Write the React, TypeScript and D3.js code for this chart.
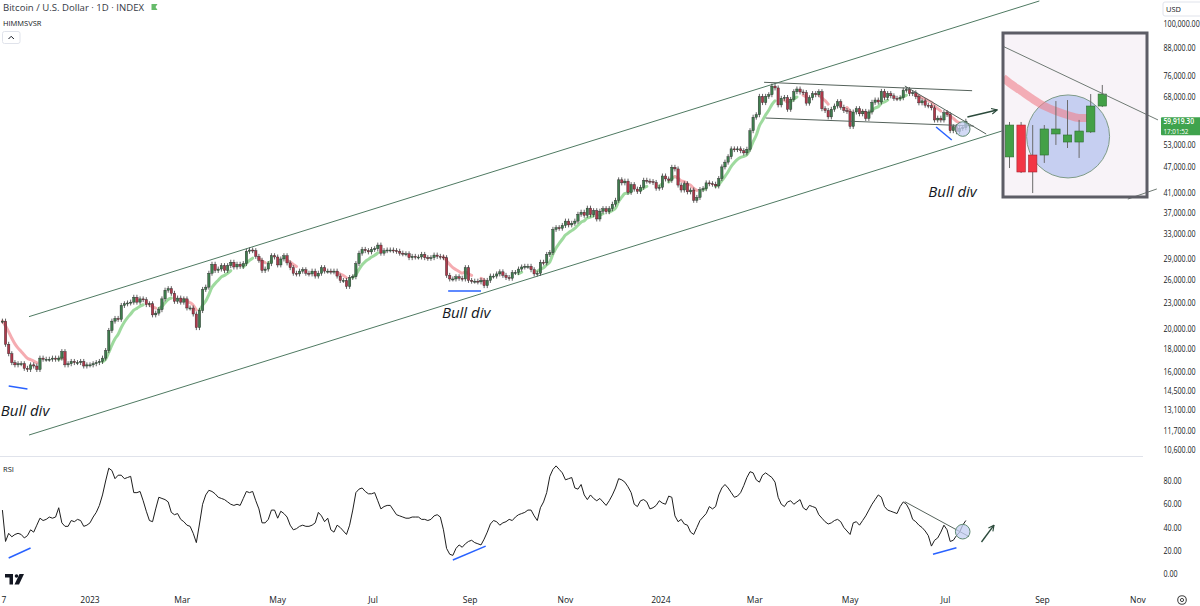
import React, { useEffect, useRef } from 'react';
import * as d3 from 'd3';

const FONT = '"Open Sans", "Liberation Sans", Arial, sans-serif';

// one candle every 2 days, first one on this date
const seriesStart = '2022-11-06';
const stepDays = 2;

// closes, thousands of USD
const closes2022 = [20.9, 18.5, 17.6, 16.8, 16.6, 16.7, 16.7, 16.3, 16.2, 16.6, 16.5, 16.2, 17.2, 17.1, 17.1, 17.1, 17.2, 17.1, 17.2, 17.8, 16.6, 16.7, 16.9, 16.8, 16.8, 16.9, 16.5, 16.6];
const closes2023 = [
  16.6, 16.7, 16.8, 16.9, 17.2, 17.9, 19.9, 20.9, 21.2, 21.1, 22.7, 22.9, 23.0, 23.1, 23.7, 23.1,
  23.5, 23.4, 22.8, 22.9, 21.6, 21.8, 22.2, 23.5, 24.6, 24.8, 24.2, 23.2, 23.6, 23.1,
  23.5, 22.4, 22.4, 21.7, 20.2, 22.1, 24.7, 25.0, 26.9, 28.2, 27.3, 27.5, 28.0, 27.3, 28.0,
  28.5, 27.8, 28.2, 27.9, 28.3, 30.2, 30.4, 30.3, 29.4, 28.8, 27.3, 27.5, 28.3, 29.5, 29.3,
  28.1, 29.0, 29.5, 28.4, 27.7, 26.9, 26.8, 27.2, 27.4, 26.9, 26.8, 27.2, 26.5, 26.9, 27.7, 27.2,
  27.2, 27.1, 27.2, 26.5, 25.9, 25.9, 25.1, 26.3, 26.4, 28.3, 29.9, 30.5, 30.3, 30.1, 30.5,
  30.6, 31.2, 29.9, 30.3, 30.4, 30.4, 30.3, 30.2, 29.9, 29.8, 29.8, 29.2, 29.4, 29.3, 29.3,
  29.7, 29.2, 29.1, 29.2, 29.6, 29.4, 29.3, 29.2, 26.6, 26.1, 26.1, 26.4, 26.2, 26.1, 27.7, 25.9,
  25.8, 25.8, 25.7, 25.9, 25.2, 25.9, 26.5, 26.5, 26.8, 27.1, 26.6, 26.3, 26.2, 27.0, 27.0,
  27.5, 27.8, 27.9, 27.9, 27.4, 26.8, 26.9, 28.5, 28.4, 29.7, 30.0, 33.9, 34.2, 34.1, 34.6,
  35.4, 34.7, 35.0, 35.4, 36.7, 37.1, 36.5, 37.9, 36.6, 37.4, 35.8, 37.3, 37.8, 37.2, 37.8,
  38.7, 39.5, 44.0, 43.3, 43.7, 41.2, 42.9, 41.9, 41.4, 42.3, 43.9, 43.7, 43.6, 43.4, 42.1, 42.3,
];
const closes2024 = [
  44.9, 44.2, 43.9, 47.0, 46.6, 42.8, 41.7, 43.1, 41.3, 41.7, 39.5, 40.1, 41.8, 42.0, 43.3,
  43.1, 43.0, 42.6, 44.3, 47.1, 48.3, 49.7, 51.8, 51.6, 51.8, 51.3, 50.7, 51.7, 57.0, 61.2,
  62.0, 68.3, 66.1, 68.3, 68.9, 72.1, 71.4, 65.3, 67.6, 67.9, 63.8, 67.2, 70.0, 71.0, 69.9,
  69.7, 65.9, 67.8, 69.3, 68.9, 70.0, 64.0, 63.4, 61.3, 63.8, 64.9, 66.4, 64.5, 63.4, 63.1,
  58.3, 62.9, 64.0, 62.3, 63.1, 60.8, 62.9, 66.2, 67.0, 66.3, 70.1, 67.9, 69.3, 68.5, 67.6, 67.5,
  67.8, 70.6, 70.8, 69.3, 69.6, 68.2, 66.0, 66.7, 65.2, 65.0, 64.3, 60.3, 60.9, 60.3, 62.7,
  62.1, 57.0, 58.2, 56.7, 57.7, 57.9, 59.9,
];

// RSI read on the same dates
const rsi2022 = [55, 28, 35, 32, 34, 35, 34, 31, 33, 38, 36, 42, 48, 46, 47, 49, 48, 49, 57, 44, 41, 41, 46, 45, 47, 46, 41, 42];
const rsi2023 = [
  44, 49, 53, 59, 68, 80, 91, 89, 82, 85, 85, 82, 83, 84, 70, 70, 71, 63, 54, 46, 45, 56, 66, 65, 64, 62, 53, 51, 52, 47,
  45,
  42, 41, 35, 27, 43, 60, 68, 72, 71, 69, 66, 65, 64, 62, 60, 59, 60, 59, 65, 71, 70, 71, 63, 56, 44, 44, 47, 55, 55, 48,
  54, 52, 49, 42, 38, 39, 41, 42, 41, 41, 42, 44, 53, 50, 45, 48, 38, 36, 42, 40, 37, 34, 42, 55, 70, 73, 74, 71, 69, 69,
  70, 63, 56, 58, 59, 59, 55, 51, 50, 49, 48, 48, 49, 49, 49, 47, 47, 46, 47, 50, 51, 49, 38, 22, 17, 16, 22, 25, 23, 26,
  28,
  29, 27, 26, 25, 30, 36, 43, 46, 45, 42, 44, 45, 47, 46, 49, 51, 52, 53, 55, 55, 50, 46, 57, 62, 70, 84, 90, 93, 90, 87,
  81, 82, 83, 74, 73, 77, 68, 64, 68, 65, 63, 65, 62, 59, 63, 68, 74, 82, 81, 79, 75, 70, 60, 58, 63, 64, 62, 56, 57, 59, 63,
];
const rsi2024 = [
  61, 60, 67, 66, 50, 45, 47, 43, 42, 36, 34, 40, 46, 49, 52, 58, 56, 58, 68, 74, 77, 74, 70, 66, 67, 70, 76, 83, 88,
  87, 81, 79, 85, 87, 85, 83, 79, 66, 60, 58, 62, 63, 60, 62, 64, 57, 55, 59, 58, 57, 51, 48, 45, 43, 44, 46, 47, 45, 40,
  37, 34, 44, 45, 42, 46, 50, 55, 60, 64, 68, 66, 58, 55, 54, 53, 52, 58, 62, 60, 55, 47, 45, 42, 40, 37, 33, 24, 29, 31,
  36, 42, 38, 28, 29, 33, 36, 42, 46,
];

const priceTicks = [100000, 88000, 76000, 68000, 53000, 47000, 41000, 37000, 33000, 29000, 26000, 23000, 20000, 18000, 16000, 14500, 13100, 11700, 10600];
const rsiTicks = [80, 60, 40, 20, 0];
const dateTicks = ['2022-11-07', '2023-01-01', '2023-03-01', '2023-05-01', '2023-07-01', '2023-09-01', '2023-11-01', '2024-01-01', '2024-03-01', '2024-05-01', '2024-07-01', '2024-09-01', '2024-11-01'];
const dateLabels = ['7', '2023', 'Mar', 'May', 'Jul', 'Sep', 'Nov', '2024', 'Mar', 'May', 'Jul', 'Sep', 'Nov'];
const lastPrice = 59919.3;
const countdown = '17:01:52';

// drawings: [date, value, date, value]
const channelLines = [
  ['2022-11-23', 21400, '2024-08-30', 112900],
  ['2022-11-23', 11470, '2024-08-06', 56900],
];
const wedgeLines = [
  ['2024-03-07', 73550, '2024-07-18', 70370],
  ['2024-03-08', 60940, '2024-07-19', 58430],
  ['2024-06-05', 72130, '2024-07-27', 56010],
];
const bullDivPrice = [
  ['2022-11-10', 14850, '2022-11-22', 14620],
  ['2023-08-18', 24490, '2023-09-08', 24490],
  ['2024-06-25', 58110, '2024-07-05', 54270],
];
const bullDivRsi = [
  ['2022-11-10', 13.8, '2022-11-24', 22.4],
  ['2023-08-21', 12, '2023-09-11', 24],
  ['2024-06-23', 17, '2024-07-08', 22.6],
];
const rsiTrend = ['2024-06-05', 62.2, '2024-07-16', 32.2];
const notes = [['2022-11-05', 12680], ['2023-08-14', 21250], ['2024-06-20', 40190]];
const arrowPrice = ['2024-07-15', 61270, '2024-08-03', 63570];
const arrowRsi = ['2024-07-24', 27.5, '2024-08-01', 42];
const circlePrice = ['2024-07-12', 57500];
const circleRsi = ['2024-07-12', 36.4];

// zoomed inset, last nine daily candles
const insetOpen = [56040, 58220, 56170, 56170, 57610, 57060, 57060, 57750, 59520];
const insetHigh = [58430, 58430, 58220, 58220, 59860, 59930, 58570, 60340, 60960];
const insetLow = [55280, 54940, 53570, 55630, 56860, 56650, 55970, 57680, 59450];
const insetClose = [58220, 55010, 55010, 57950, 57950, 57540, 57810, 59520, 60340];
const insetRibbonIdx = [-0.55, 0, 1, 2, 3, 4, 5, 6, 7];
const insetRibbon = [61440, 61100, 60550, 60000, 59520, 59180, 58910, 58700, 58700];
const insetCircle = [5.05, 57440];
const insetLines = [
  [-0.6, 63620, 12.8, 58570],
  [10.2, 53160, 12.7, 53850],
];

// axis text is narrow in the original: draw it horizontally squeezed
const axisText = (g: any, tx: number, ty: number, s: string) =>
  g.append('text').attr('transform', `translate(${tx},${ty}) scale(0.79,1)`).text(s);

export default function App() {
  const svgRef = useRef<SVGSVGElement | null>(null);

  useEffect(() => {
    if (!svgRef.current) return;
    const svg = d3.select(svgRef.current);
    svg.selectAll('*').remove();

    const parse = d3.utcParse('%Y-%m-%d');
    const day = (s: any) => parse(s) as Date;

    const x = d3.scaleUtc().domain([day('2023-01-01'), day('2024-01-01')]).range([90, 90 + 365 * 1.564]);
    const y = d3.scaleLog().domain([10600, 100000]).range([450, 24]);
    const yR = d3.scaleLinear().domain([0, 80]).range([574, 481]);

    const closes = [...closes2022, ...closes2023, ...closes2024].map(v => v * 1000);
    const rsi = [...rsi2022, ...rsi2023, ...rsi2024];
    const t0 = day(seriesStart);
    const dates = closes.map((_, i) => d3.utcDay.offset(t0, i * stepDays));

    svg.append('rect').attr('width', 1200).attr('height', 606).attr('fill', '#ffffff');

    const defs = svg.append('defs');
    defs.append('clipPath').attr('id', 'mainClip').append('rect')
      .attr('x', 0).attr('y', 0).attr('width', 1150).attr('height', 456);
    defs.append('clipPath').attr('id', 'rsiClip').append('rect')
      .attr('x', 0).attr('y', 457).attr('width', 1150).attr('height', 133);
    defs.append('clipPath').attr('id', 'insetClip').append('rect')
      .attr('x', 1003).attr('y', 33).attr('width', 144).attr('height', 164);
    const mk = defs.append('marker').attr('id', 'arrowHead')
      .attr('viewBox', '0 0 10 10').attr('refX', 9).attr('refY', 5)
      .attr('markerWidth', 7).attr('markerHeight', 7).attr('markerUnits', 'userSpaceOnUse')
      .attr('orient', 'auto');
    mk.append('path').attr('d', 'M1,1 L9,5 L1,9').attr('fill', 'none')
      .attr('stroke', '#2b4a3b').attr('stroke-width', 1.6);

    // pane separator
    svg.append('line').attr('x1', 0).attr('x2', 1143).attr('y1', 456.5).attr('y2', 456.5)
      .attr('stroke', '#e0e3eb').attr('stroke-width', 1);

    const main = svg.append('g').attr('clip-path', 'url(#mainClip)');

    const seg = (g: any, l: any[], ys: any, color: string, w: number) =>
      g.append('line')
        .attr('x1', x(day(l[0]))).attr('y1', ys(l[1]))
        .attr('x2', x(day(l[2]))).attr('y2', ys(l[3]))
        .attr('stroke', color).attr('stroke-width', w);

    // channel
    channelLines.forEach(l => seg(main, l, y, '#4f7a62', 1));

    // trend ribbon (ema of the closes)
    const alpha = 2 / 9;
    const ema: number[] = [];
    closes.forEach((c, i) => ema.push(i === 0 ? c : ema[i - 1] + alpha * (c - ema[i - 1])));
    const side = closes.map((c, i) => {
      const gap = (c - ema[i]) / ema[i];
      return gap > 0.025 ? 1 : gap < -0.025 ? -1 : 0;
    });
    ([[1, '#93d693'], [-1, '#f4a3a9']] as [number, string][]).forEach(([s, color]) => {
      const line = d3.line<number>()
        .defined((_, i) => side[i] === s || (side[i + 1] === s && i + 1 < side.length))
        .x((_, i) => x(dates[i]))
        .y(v => y(v))
        .curve(d3.curveMonotoneX);
      main.append('path').datum(ema).attr('d', line as any)
        .attr('fill', 'none').attr('stroke', color).attr('stroke-width', 3)
        .attr('stroke-linecap', 'round').attr('opacity', 0.9);
    });

    // candles
    const candles = closes.map((c, i) => ({ o: i === 0 ? c : closes[i - 1], c, t: dates[i] }));
    const cg = main.append('g');
    cg.selectAll('line').data(candles).enter().append('line')
      .attr('x1', d => x(d.t)).attr('x2', d => x(d.t))
      .attr('y1', d => y(Math.max(d.o, d.c)) - 2.5)
      .attr('y2', d => y(Math.min(d.o, d.c)) + 2.5)
      .attr('stroke', '#3b3b3b').attr('stroke-width', 0.8);
    cg.selectAll('rect').data(candles).enter().append('rect')
      .attr('x', d => x(d.t) - 1.2).attr('width', 2.4)
      .attr('y', d => y(Math.max(d.o, d.c)))
      .attr('height', d => Math.max(1, y(Math.min(d.o, d.c)) - y(Math.max(d.o, d.c))))
      .attr('fill', d => (d.c >= d.o ? '#3f7d4e' : '#b0394b'))
      .attr('stroke', '#262626').attr('stroke-width', 0.4);

    // wedge
    wedgeLines.forEach(l => seg(main, l, y, '#55625b', 1));

    // bull div marks
    bullDivPrice.forEach(l => seg(main, l, y, '#2962ff', 1.5));
    notes.forEach(n => {
      main.append('text').attr('x', x(day(n[0]))).attr('y', y(n[1] as number))
        .attr('font-family', FONT).attr('font-style', 'italic').attr('font-size', 15)
        .attr('fill', '#131722').text('Bull div');
    });

    main.append('circle').attr('cx', x(day(circlePrice[0]))).attr('cy', y(circlePrice[1] as number))
      .attr('r', 7.3).attr('fill', '#c3cdf2').attr('fill-opacity', 0.75)
      .attr('stroke', '#5f8a72').attr('stroke-width', 1);

    svg.append('line')
      .attr('x1', x(day(arrowPrice[0]))).attr('y1', y(arrowPrice[1] as number))
      .attr('x2', x(day(arrowPrice[2]))).attr('y2', y(arrowPrice[3] as number))
      .attr('stroke', '#2b4a3b').attr('stroke-width', 1.4).attr('marker-end', 'url(#arrowHead)');

    // RSI pane
    const rg = svg.append('g').attr('clip-path', 'url(#rsiClip)');
    const rsiLine = d3.line<number>().x((_, i) => x(dates[i])).y(v => yR(v));
    rg.append('path').datum(rsi).attr('d', rsiLine as any)
      .attr('fill', 'none').attr('stroke', '#1e1e1e').attr('stroke-width', 1);
    bullDivRsi.forEach(l => seg(rg, l, yR, '#2962ff', 1.5));
    seg(rg, rsiTrend, yR, '#55625b', 1);
    rg.append('circle').attr('cx', x(day(circleRsi[0]))).attr('cy', yR(circleRsi[1] as number))
      .attr('r', 7.3).attr('fill', '#c3cdf2').attr('fill-opacity', 0.75)
      .attr('stroke', '#5f8a72').attr('stroke-width', 1);
    svg.append('line')
      .attr('x1', x(day(arrowRsi[0]))).attr('y1', yR(arrowRsi[1] as number))
      .attr('x2', x(day(arrowRsi[2]))).attr('y2', yR(arrowRsi[3] as number))
      .attr('stroke', '#2b4a3b').attr('stroke-width', 1.4).attr('marker-end', 'url(#arrowHead)');
    svg.append('text').attr('x', 3).attr('y', 472).attr('font-family', FONT).attr('font-size', 7.5)
      .attr('fill', '#131722').text('RSI');

    // inset
    const ix = d3.scaleLinear().domain([0, 8]).range([1009.5, 1102.3]);
    const iy = d3.scaleLinear().domain([53300, 61300]).range([197, 80]);
    svg.append('rect').attr('x', 1003).attr('y', 33).attr('width', 144).attr('height', 164)
      .attr('fill', '#f8f3f8');
    const ig = svg.append('g').attr('clip-path', 'url(#insetClip)');
    ig.append('circle').attr('cx', ix(insetCircle[0])).attr('cy', iy(insetCircle[1]))
      .attr('r', 41.5).attr('fill', '#c6cff1').attr('stroke', '#7e9b88').attr('stroke-width', 1);
    const ribbon = d3.line<number>().x((_, i) => ix(insetRibbonIdx[i])).y(v => iy(v)).curve(d3.curveMonotoneX);
    ig.append('path').datum(insetRibbon).attr('d', ribbon as any)
      .attr('fill', 'none').attr('stroke', '#f07f8a').attr('stroke-opacity', 0.6).attr('stroke-width', 8);
    insetClose.forEach((c, i) => {
      const o = insetOpen[i];
      const up = c >= o;
      ig.append('line').attr('x1', ix(i)).attr('x2', ix(i))
        .attr('y1', iy(insetHigh[i])).attr('y2', iy(insetLow[i]))
        .attr('stroke', '#6b6b6b').attr('stroke-width', 1);
      ig.append('rect').attr('x', ix(i) - 4.2).attr('width', 8.4)
        .attr('y', iy(Math.max(o, c))).attr('height', Math.max(1.5, iy(Math.min(o, c)) - iy(Math.max(o, c))))
        .attr('fill', up ? '#43a047' : '#f23645').attr('stroke', up ? '#2e6b31' : '#a52330').attr('stroke-width', 0.6);
    });
    insetLines.forEach(l => {
      svg.append('line').attr('x1', ix(l[0])).attr('y1', iy(l[1])).attr('x2', ix(l[2])).attr('y2', iy(l[3]))
        .attr('stroke', '#6f7a74').attr('stroke-width', 1);
    });
    svg.append('rect').attr('x', 1003).attr('y', 33).attr('width', 144).attr('height', 164)
      .attr('fill', 'none').attr('stroke', '#5d5d66').attr('stroke-width', 3);

    // price axis
    const pa = svg.append('g').attr('font-family', FONT).attr('font-size', 9).attr('fill', '#131722');
    priceTicks.forEach(p => axisText(pa, 1163.5, y(p) + 3, d3.format(',.2f')(p)));
    rsiTicks.forEach(v => axisText(pa, 1163.5, yR(v) + 3, d3.format('.2f')(v)));
    const ty = y(lastPrice);
    svg.append('rect').attr('x', 1161).attr('y', ty - 4).attr('width', 40).attr('height', 18)
      .attr('fill', '#3fa34d').attr('rx', 1);
    const tg = svg.append('g').attr('font-family', FONT).attr('fill', '#ffffff');
    axisText(tg, 1163.5, ty + 3, d3.format(',.2f')(lastPrice)).attr('font-size', 8.5).attr('font-weight', 600);
    axisText(tg, 1163.5, ty + 12.3, countdown).attr('font-size', 8);
    svg.append('rect').attr('x', 1163).attr('y', 2).attr('width', 40).attr('height', 14).attr('rx', 2)
      .attr('fill', 'none').attr('stroke', '#e0e3eb');
    svg.append('text').attr('x', 1166).attr('y', 12).attr('font-family', FONT).attr('font-size', 7.5)
      .attr('fill', '#131722').text('USD');

    // time axis
    const ta = svg.append('g').attr('font-family', FONT).attr('font-size', 8.5).attr('fill', '#131722')
      .attr('text-anchor', 'middle');
    dateTicks.forEach((d, i) => {
      ta.append('text').attr('x', Math.max(4, x(day(d)))).attr('y', 603).text(dateLabels[i]);
    });

    // header
    svg.append('text').attr('x', 3).attr('y', 11).attr('font-family', FONT).attr('font-size', 9.6)
      .attr('fill', '#363a45').text('Bitcoin / U.S. Dollar · 1D · INDEX');
    svg.append('path').attr('d', 'M151.5,4 H157.5 L155.5,7 L157.5,10 H151.5 Z').attr('fill', '#66bb6a');
    svg.append('text').attr('x', 3).attr('y', 26).attr('font-family', FONT).attr('font-size', 7.5)
      .attr('fill', '#131722').text('HIMMSVSR');
    svg.append('rect').attr('x', 2.5).attr('y', 31.5).attr('width', 17.5).attr('height', 12).attr('rx', 2)
      .attr('fill', '#ffffff').attr('stroke', '#e0e3eb');
    svg.append('path').attr('d', 'M8.5,39 L11.2,36.3 L13.9,39').attr('fill', 'none')
      .attr('stroke', '#131722').attr('stroke-width', 1);

    // logo and settings icon
    const logo = svg.append('g').attr('fill', '#131722');
    logo.append('rect').attr('x', 5).attr('y', 574).attr('width', 8).attr('height', 3.5);
    logo.append('rect').attr('x', 9.5).attr('y', 574).attr('width', 3.5).attr('height', 10.5);
    logo.append('circle').attr('cx', 16.5).attr('cy', 576).attr('r', 1.8);
    logo.append('path').attr('d', 'M19.5,574 L24,574 L19,584.5 L14.5,584.5 Z');
    svg.append('circle').attr('cx', 1182).attr('cy', 600).attr('r', 4.3)
      .attr('fill', 'none').attr('stroke', '#444').attr('stroke-width', 1.1);
    svg.append('circle').attr('cx', 1182).attr('cy', 600).attr('r', 1.6)
      .attr('fill', 'none').attr('stroke', '#444').attr('stroke-width', 1);
  }, []);

  return (
    <svg ref={svgRef} width={1200} height={606}
      style={{ position: 'absolute', left: 0, top: 0, display: 'block' }} />
  );
}
